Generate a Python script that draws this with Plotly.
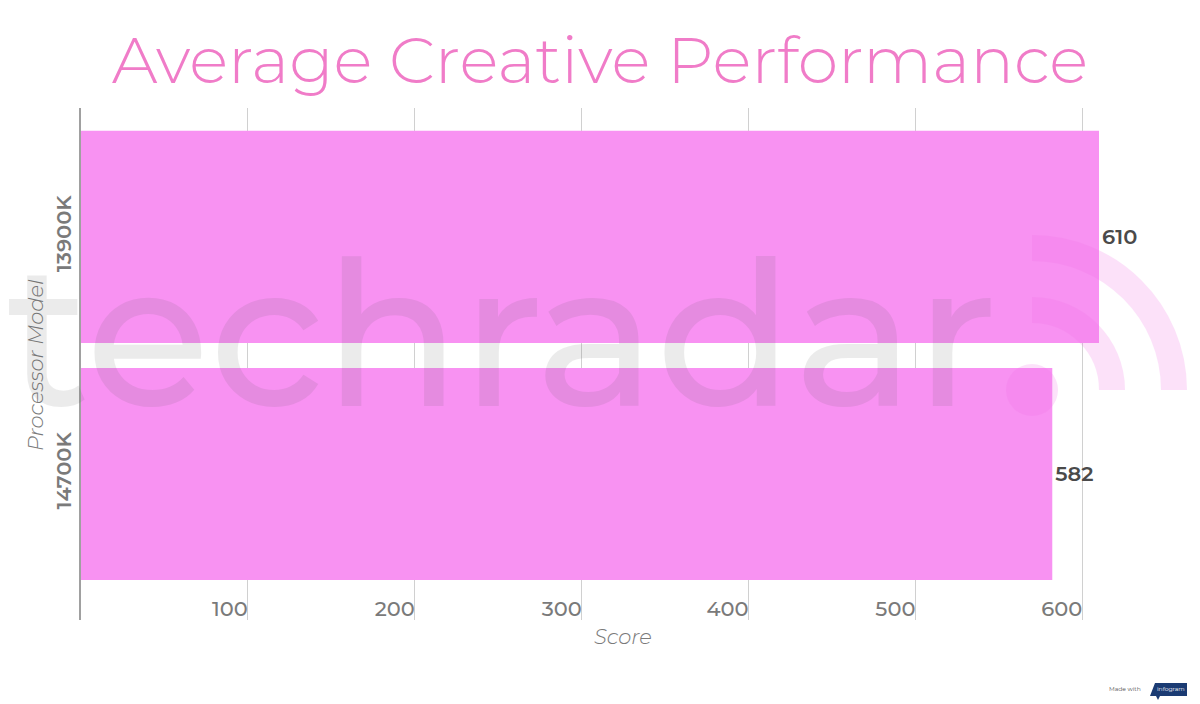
import plotly.graph_objects as go

categories = ["13900K", "14700K"]
scores = [610, 582]
tick_values = [100, 200, 300, 400, 500, 600]
tick_labels = ["100", "200", "300", "400", "500", "600"]

title_text = "Average Creative Performance"
x_title = "Score"
y_title = "Processor Model"

BAR = "#f892f2"
TITLE = "#f07cc8"
GREY = "#7a7a7a"
FONT = "Montserrat, 'Open Sans', Lato, sans-serif"

# plot area in pixels (for placing decorative elements)
L, R, T, B = 81, 1099, 108, 620
W, H = 1200, 704


def px(x):
    return (x - L) / (R - L)


def py(y):
    return (B - y) / (B - T)


def arc_path(cx, cy, r):
    k = 0.5523
    p0 = (px(cx), py(cy - r))
    c1 = (px(cx + k * r), py(cy - r))
    c2 = (px(cx + r), py(cy - k * r))
    p1 = (px(cx + r), py(cy))
    return (f"M {p0[0]},{p0[1]} C {c1[0]},{c1[1]} {c2[0]},{c2[1]} {p1[0]},{p1[1]}")


fig = go.Figure()
fig.add_trace(go.Bar(
    y=categories, x=scores, orientation="h",
    marker=dict(color=BAR, line=dict(width=0)),
    text=[str(v) for v in scores], textposition="outside",
    textfont=dict(family=FONT, size=21, color="#4a4a4a", weight=600),
    cliponaxis=False, hoverinfo="skip",
))

cx, cy = 1032, 390
shapes = [
    dict(type="circle", xref="paper", yref="paper",
         x0=px(cx - 26), x1=px(cx + 26), y0=py(cy + 26), y1=py(cy - 26),
         fillcolor="#f26fe6", line=dict(width=0), opacity=0.2, layer="above"),
    dict(type="path", xref="paper", yref="paper", path=arc_path(cx, cy, 80),
         line=dict(color="#f26fe6", width=26), opacity=0.2, layer="above"),
    dict(type="path", xref="paper", yref="paper", path=arc_path(cx, cy, 142),
         line=dict(color="#f26fe6", width=26), opacity=0.2, layer="above"),
    # infogram badge
    dict(type="path", xref="paper", yref="paper",
         path=(f"M {px(1150)},{py(696)} L {px(1155)},{py(683)} L {px(1187)},{py(683)} "
               f"L {px(1187)},{py(696)} L {px(1160)},{py(696)} L {px(1158)},{py(700)} "
               f"L {px(1156)},{py(696)} Z"),
         fillcolor="#1b3b73", line=dict(width=0), layer="above"),
]

fig.update_layout(
    width=W, height=H,
    paper_bgcolor="white", plot_bgcolor="white",
    margin=dict(l=L, r=W - R, t=T, b=H - B, autoexpand=False),
    bargap=0.105,
    showlegend=False,
    title=dict(text=title_text, x=0.5, xanchor="center", y=0.915, yanchor="middle",
               font=dict(family=FONT, size=65, color=TITLE, weight=300)),
    xaxis=dict(range=[0, 610], tickvals=tick_values, ticktext=tick_labels,
               ticklabelposition="inside left", ticklabelstandoff=-6, ticks="",
               showgrid=True, gridcolor="#d0d0d0", gridwidth=1,
               zeroline=False, showline=False,
               tickfont=dict(family=FONT, size=21, color=GREY, weight=500)),
    yaxis=dict(categoryorder="array", categoryarray=categories,
               range=[1.616, -0.544], showgrid=False, zeroline=False,
               showline=True, linecolor="#a0a0a0", linewidth=1.5,
               tickangle=-90, ticks="", ticklen=0,
               tickfont=dict(family=FONT, size=21, color=GREY, weight=600)),
    shapes=shapes,
    annotations=[
        dict(text=x_title, xref="paper", yref="paper", x=px(623), y=py(636),
             xanchor="center", yanchor="middle", showarrow=False,
             font=dict(family=FONT, size=21, color=GREY, style="italic", weight=300)),
        dict(text=y_title, xref="paper", yref="paper", x=px(35), y=py(365),
             xanchor="center", yanchor="middle", textangle=-90, showarrow=False,
             font=dict(family=FONT, size=21, color=GREY, style="italic", weight=300)),
        dict(text="techradar", xref="paper", yref="paper", x=px(4), y=py(333),
             xanchor="left", yanchor="middle", showarrow=False, opacity=0.11,
             font=dict(family=FONT, size=202, color="#555555", weight=500)),
        dict(text="Made with", xref="paper", yref="paper", x=px(1143), y=py(689),
             xanchor="right", yanchor="middle", showarrow=False,
             font=dict(family=FONT, size=6, color="#555555")),
        dict(text="infogram", xref="paper", yref="paper", x=px(1171), y=py(689),
             xanchor="center", yanchor="middle", showarrow=False,
             font=dict(family=FONT, size=6, color="white")),
    ],
)

fig.write_html("out.html", config={"displayModeBar": False},
               post_script="document.body.style.margin='0';")
